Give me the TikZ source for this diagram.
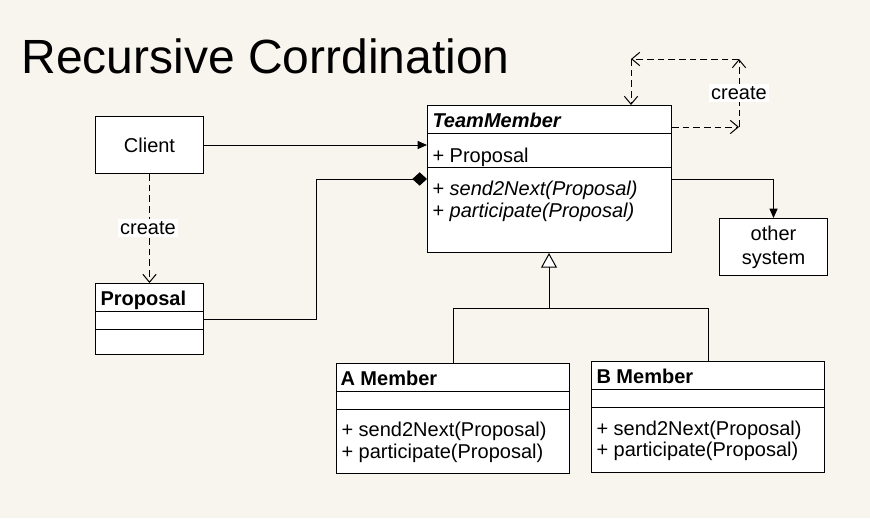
\documentclass[tikz,border=0pt]{standalone}
\usepackage{fontspec}
\setmainfont{Liberation Sans}
\usetikzlibrary{arrows.meta}
\definecolor{paper}{RGB}{248,245,239}

\begin{document}
\begin{tikzpicture}[x=0.75pt, y=-0.75pt, line width=0.75pt,
    box/.style={draw, fill=white, inner sep=0pt, anchor=north west, font=\fontsize{15}{18}\selectfont},
    txt/.style={inner sep=0pt, anchor=base west, font=\fontsize{15}{18}\selectfont},
    lbl/.style={fill=white, inner sep=1.5pt, font=\fontsize{15}{18}\selectfont},
    dep/.style={dash pattern=on 5pt off 3pt, -{Straight Barb[length=6pt,width=10pt]}},
    assoc/.style={-{Triangle[length=7pt,width=6pt]}}]
    \fill[paper] (0,0) rectangle (870,518);
    \useasboundingbox (0,0) rectangle (870,518);
    % Title
    \node[inner sep=0pt, anchor=base west, font=\fontsize{36}{40}\selectfont] (title) at (21,73) {Recursive Corrdination};
    % Nodes
    \node[box, minimum width=81pt, minimum height=42.75pt] (client) at (95,116) {Client};
    \node[box, minimum width=81pt, minimum height=53.25pt] (prop) at (95,283) {};
    \node[box, minimum width=183pt, minimum height=110.25pt] (tm) at (427,105) {};
    \node[box, minimum width=81pt, minimum height=42.75pt, align=center] (other) at (719,218) {other\\system};
    \node[box, minimum width=174.75pt, minimum height=82.5pt] (amem) at (336,363) {};
    \node[box, minimum width=174.75pt, minimum height=83.25pt] (bmem) at (591,361) {};
    % Compartments
    \draw (95,311) -- (203,311);
    \draw (95,329) -- (203,329);
    \draw (427,133) -- (671,133);
    \draw (427,167) -- (671,167);
    \draw (336,391.5) -- (569,391.5);
    \draw (336,409) -- (569,409);
    \draw (591,389) -- (824,389);
    \draw (591,407.5) -- (824,407.5);
    % Texts
    \node[txt, font=\fontsize{15}{18}\selectfont\bfseries] (propname) at (100,305) {Proposal};
    \node[txt, font=\fontsize{15}{18}\selectfont\bfseries\itshape] (tmname) at (432,127) {TeamMember};
    \node[txt] (tmattr) at (432,162) {+ Proposal};
    \node[txt] (tmop1) at (432,195) {+ \textit{send2Next(Proposal)}};
    \node[txt] (tmop2) at (432,217) {+ \textit{participate(Proposal)}};
    \node[txt, font=\fontsize{15}{18}\selectfont\bfseries] (aname) at (340,385.5) {A Member};
    \node[txt] (aop1) at (341,436.5) {+ send2Next(Proposal)};
    \node[txt] (aop2) at (341,458) {+ participate(Proposal)};
    \node[txt, font=\fontsize{15}{18}\selectfont\bfseries] (bname) at (596,383) {B Member};
    \node[txt] (bop1) at (596,435) {+ send2Next(Proposal)};
    \node[txt] (bop2) at (596,456.5) {+ participate(Proposal)};
    % Edges
    \draw[assoc] (client.east) -- (client.east -| tm.west);
    \coordinate (pbend) at (316,179);
    \draw[-{Diamond[length=11pt,width=10pt]}] (prop.east) -| (pbend) -- (pbend -| tm.west);
    \draw[assoc] (tm.east |- pbend) -| (other.north);
    \draw[dep] (client.south) -- (prop.north);
    \node[lbl] (create1) at (148,228) {create};
    % self create
    \coordinate (c1) at (739,127);
    \coordinate (c2) at (739,59);
    \coordinate (c3) at (631,59);
    \draw[dep] (tm.east |- c1) -- (c1);
    \draw[dep] (c1) -- (c2);
    \draw[dep] (c2) -- (c3);
    \draw[dep] (c3) -- (c3 |- tm.north);
    \node[lbl] (create2) at (739,93) {create};
    % Generalization
    \coordinate (gj) at (549,308);
    \draw[-{Triangle[open,fill=white,length=11pt,width=12pt]}] (gj) -- (gj |- tm.south);
    \draw (gj) -| (amem.north);
    \draw (gj) -| (bmem.north);
\end{tikzpicture}
\end{document}
